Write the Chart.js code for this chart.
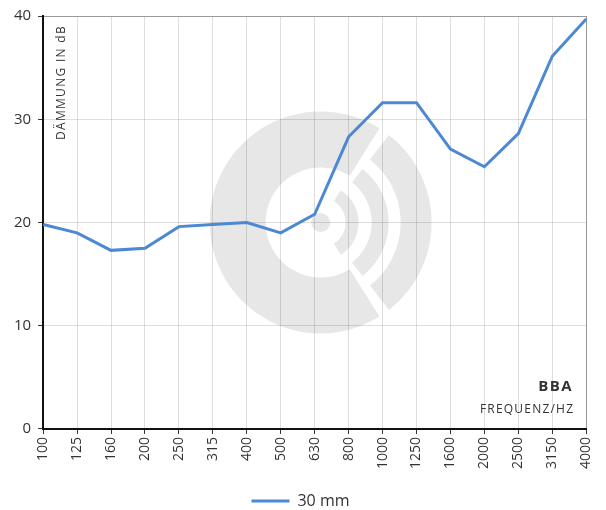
<!DOCTYPE html>
<html>
<head>
<meta charset="utf-8">
<script src="https://cdn.jsdelivr.net/npm/chart.js@4.4.0/dist/chart.umd.min.js"></script>
<style>
  html, body { margin: 0; padding: 0; background: #fff; }
  #wrap { width: 606px; height: 510px; position: relative; }
</style>
</head>
<body>
<div id="wrap"><canvas id="chart"></canvas></div>
<script>
// Frequenzbänder (Hz) und Dämmwerte (dB)
const frequenzen = ['100', '125', '160', '200', '250', '315', '400', '500', '630', '800', '1000', '1250', '1600', '2000', '2500', '3150', '4000'];
const daemmung30mm = [19.8, 19.0, 17.3, 17.5, 19.6, 19.8, 20.0, 19.0, 20.8, 28.3, 31.6, 31.6, 27.1, 25.4, 28.6, 36.1, 39.7];
const yTicks = [0, 10, 20, 30, 40];

const blau = '#4d88d2';
const schrift = "'Open Sans', sans-serif";

// Logo im Hintergrund + Beschriftungen im Diagramm
const logoPlugin = {
    id: 'logo',
    beforeDraw(chart) {
        const ctx = chart.ctx;
        const a = chart.chartArea;
        const cx = a.left + (a.right - a.left) * 0.511;
        const cy = a.top + (a.bottom - a.top) * 0.5;
        const deg = Math.PI / 180;
        ctx.save();
        ctx.fillStyle = '#e7e7e7';
        // grosser Ring
        ctx.beginPath();
        ctx.arc(cx, cy, 111, 58 * deg, 302 * deg);
        ctx.arc(cx, cy, 55, 302 * deg, 58 * deg, true);
        ctx.closePath();
        ctx.fill();
        // Punkt
        ctx.beginPath();
        ctx.arc(cx, cy, 9.5, 0, Math.PI * 2);
        ctx.fill();
        // Bögen
        const boegen = [[25, 38, 58], [51, 68, 52], [80, 111, 52]];
        boegen.forEach(b => {
            ctx.beginPath();
            ctx.arc(cx, cy, b[1], -b[2] * deg, b[2] * deg);
            ctx.arc(cx, cy, b[0], b[2] * deg, -b[2] * deg, true);
            ctx.closePath();
            ctx.fill();
        });
        ctx.restore();
    },
    afterDatasetsDraw(chart) {
        const ctx = chart.ctx;
        const a = chart.chartArea;
        ctx.save();
        ctx.fillStyle = '#333';
        ctx.font = '12px ' + schrift;
        ctx.letterSpacing = '1.3px';
        ctx.translate(a.left + 18, a.top + 9);
        ctx.rotate(-Math.PI / 2);
        ctx.textAlign = 'right';
        ctx.textBaseline = 'middle';
        ctx.fillText('DÄMMUNG IN dB', 0, 0);
        ctx.restore();

        ctx.save();
        ctx.fillStyle = '#333';
        ctx.textAlign = 'right';
        ctx.textBaseline = 'middle';
        ctx.font = 'bold 15px ' + schrift;
        ctx.letterSpacing = '1.5px';
        ctx.fillText('BBA', a.right - 13, a.top + 371);
        ctx.font = '12px ' + schrift;
        ctx.letterSpacing = '1.2px';
        ctx.fillText('FREQUENZ/HZ', a.right - 12, a.top + 394);
        ctx.restore();
    }
};

new Chart(document.getElementById('chart'), {
    type: 'line',
    data: {
        labels: frequenzen,
        datasets: [{
            label: '30 mm',
            data: daemmung30mm,
            borderColor: blau,
            backgroundColor: blau,
            borderWidth: 3,
            pointRadius: 0,
            tension: 0,
            fill: false
        }]
    },
    options: {
        responsive: true,
        maintainAspectRatio: false,
        animation: false,
        layout: { padding: { left: 7, right: 12, top: 11, bottom: -9 } },
        plugins: {
            legend: {
                position: 'bottom',
                labels: {
                    usePointStyle: true,
                    pointStyle: 'line',
                    pointStyleWidth: 38,
                    color: '#333',
                    font: { family: schrift, size: 16 },
                    padding: 21
                }
            },
            tooltip: { enabled: false }
        },
        scales: {
            x: {
                offset: false,
                grid: {
                    color: ctx => ctx.index === frequenzen.length - 1 ? '#999' : 'rgba(0,0,0,0.13)',
                    tickLength: 5,
                    tickColor: '#333'
                },
                border: { color: '#111', width: 2 },
                ticks: {
                    color: '#333',
                    font: { family: schrift, size: 14 },
                    minRotation: 90,
                    maxRotation: 90,
                    autoSkip: false,
                    padding: 3
                }
            },
            y: {
                min: 0,
                max: 40,
                afterBuildTicks: axis => { axis.ticks = yTicks.map(v => ({ value: v })); },
                grid: {
                    color: ctx => ctx.tick && ctx.tick.value === 40 ? '#999' : 'rgba(0,0,0,0.13)',
                    tickLength: 5,
                    tickColor: '#333'
                },
                border: { color: '#111', width: 2 },
                ticks: {
                    color: '#333',
                    font: { family: schrift, size: 15 },
                    padding: 7
                }
            }
        }
    },
    plugins: [logoPlugin]
});
</script>
</body>
</html>
